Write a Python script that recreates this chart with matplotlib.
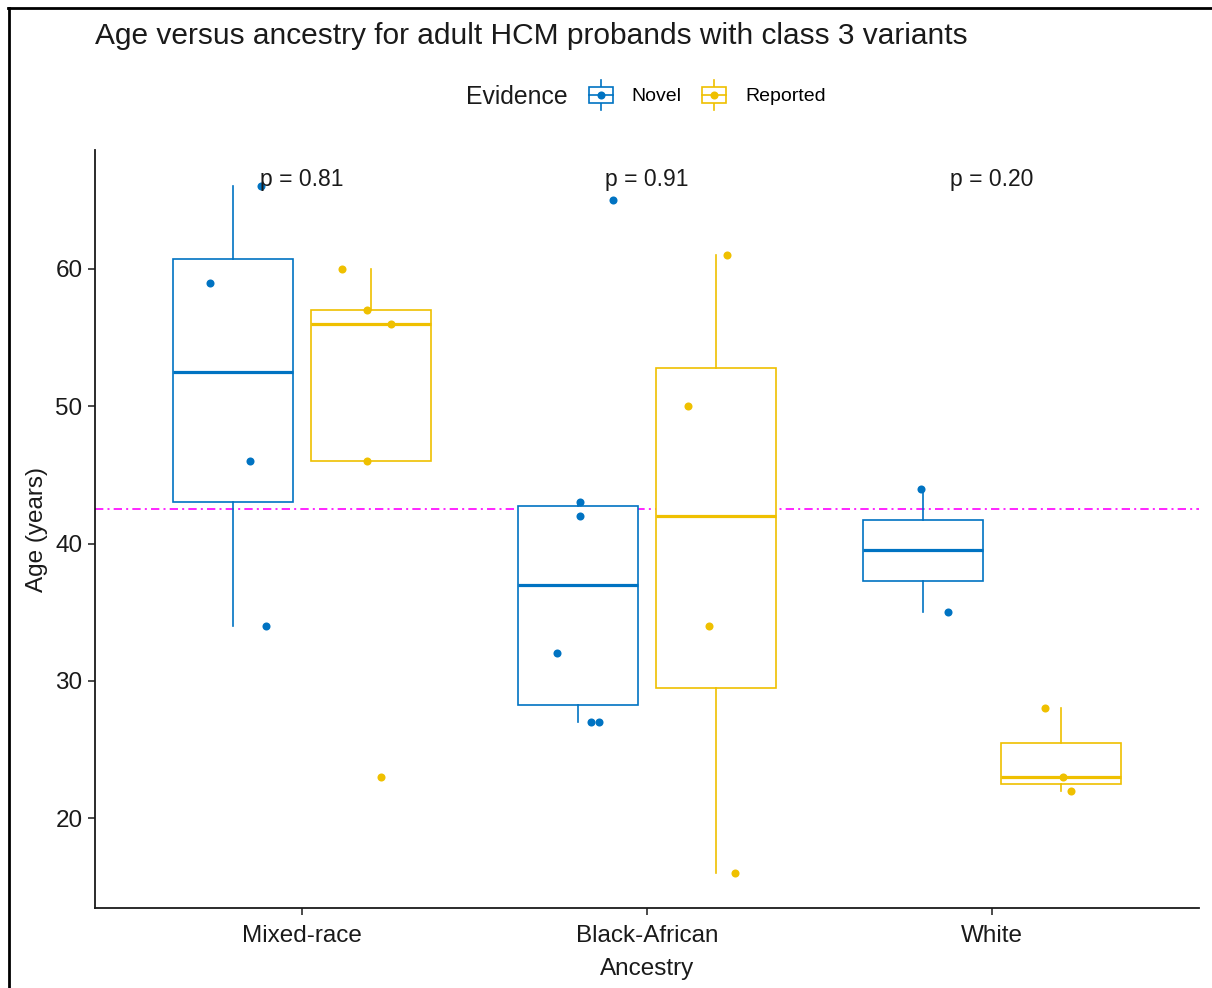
import matplotlib
matplotlib.use("Agg")
import matplotlib.pyplot as plt
from matplotlib.legend_handler import HandlerBase
from matplotlib.lines import Line2D
from matplotlib.patches import Rectangle

plt.rcParams["font.family"] = ["Liberation Sans", "DejaVu Sans"]

# ---- data -------------------------------------------------------------
ancestry = ["Mixed-race", "Black-African", "White"]
evidence = ["Novel", "Reported"]
colors = {"Novel": "#0073C2", "Reported": "#EFC000"}

novel_ages = [
    [66, 59, 46, 34],
    [65, 43, 42, 32, 27, 27],
    [44, 35],
]
reported_ages = [
    [60, 57, 56, 46, 23],
    [61, 50, 34, 16],
    [28, 23, 22],
]
# horizontal jitter of each point relative to its box centre
novel_jitter = [
    [0.081, -0.066, 0.050, 0.096],
    [0.102, 0.006, 0.006, -0.060, 0.038, 0.061],
    [-0.006, 0.073],
]
reported_jitter = [
    [-0.084, -0.012, 0.058, -0.012, 0.029],
    [0.032, -0.081, -0.020, 0.055],
    [-0.047, 0.005, 0.029],
]
p_labels = ["p = 0.81", "p = 0.91", "p = 0.20"]
p_label_y = 66.5
reference_age = 42.5
y_ticks = [20, 30, 40, 50, 60]

# ---- figure -----------------------------------------------------------
W, H = 1212, 988
fig = plt.figure(figsize=(W / 100, H / 100), dpi=100)
ax = fig.add_axes([95 / W, (H - 908) / H, (1199 - 95) / W, (908 - 150) / H])

dodge = 0.2
box_w = 0.35
groups = [("Novel", novel_ages, novel_jitter, -dodge),
          ("Reported", reported_ages, reported_jitter, dodge)]

for name, ages, jit, off in groups:
    c = colors[name]
    pos = [i + off for i in range(len(ancestry))]
    ax.boxplot(ages, positions=pos, widths=box_w, whis=1.5, showfliers=False,
               showcaps=False, patch_artist=True, manage_ticks=False,
               boxprops=dict(facecolor="white", edgecolor=c, linewidth=1.2),
               whiskerprops=dict(color=c, linewidth=1.2),
               medianprops=dict(color=c, linewidth=2.3, solid_capstyle="butt"),
               zorder=2)
    for i, (vals, js) in enumerate(zip(ages, jit)):
        xs = [i + off + j for j in js]
        ax.plot(xs, vals, "o", color=c, ms=5.8, mec="none", zorder=3)

ax.axhline(reference_age, color="#FF00FF", linewidth=1.2,
           dashes=(5, 2.5, 1.2, 2.5), zorder=1)

for i, lab in enumerate(p_labels):
    ax.text(i, p_label_y, lab, ha="center", va="center", fontsize=16.5,
            color="#1a1a1a", zorder=4)

ax.set_xlim(-0.6, len(ancestry) - 0.4)
ax.set_ylim(13.47, 68.65)
ax.set_xticks(range(len(ancestry)))
ax.set_xticklabels(ancestry)
ax.set_yticks(y_ticks)
ax.tick_params(axis="both", labelsize=17.5, colors="#1a1a1a", length=5,
               width=1.1, direction="out")
ax.tick_params(axis="x", pad=7)
ax.tick_params(axis="y", pad=4)
for s in ["top", "right"]:
    ax.spines[s].set_visible(False)
for s in ["left", "bottom"]:
    ax.spines[s].set_linewidth(1.3)
    ax.spines[s].set_color("#1a1a1a")

ax.set_xlabel("Ancestry", fontsize=17.5, color="#1a1a1a", labelpad=8)
ax.set_ylabel("Age (years)", fontsize=17.5, color="#1a1a1a", labelpad=5)

fig.text(95 / W, 1 - 36 / H, "Age versus ancestry for adult HCM probands with class 3 variants",
         ha="left", va="center", fontsize=21.5, color="#1a1a1a")


# legend keys drawn as small boxplots
class BoxKey(HandlerBase):
    def create_artists(self, legend, orig_handle, xdescent, ydescent,
                       width, height, fontsize, trans):
        c = orig_handle.get_color()
        cx = -xdescent + width / 2
        cy = -ydescent + height / 2
        bw, bh = width * 0.95, height * 0.5
        arts = [
            Line2D([cx, cx], [cy - height * 0.5, cy + height * 0.5], color=c, lw=1.2),
            Rectangle((cx - bw / 2, cy - bh / 2), bw, bh, facecolor="white",
                      edgecolor=c, lw=1.2),
            Line2D([cx - bw / 2, cx + bw / 2], [cy, cy], color=c, lw=1.2),
            Line2D([cx], [cy], marker="o", ms=5.8, color=c, mec="none"),
        ]
        for a in arts:
            a.set_transform(trans)
        return arts


handles = [Line2D([], [], color=colors[e]) for e in evidence]
fig.text(466 / W, 1 - 97 / H, "Evidence", ha="left", va="center",
         fontsize=17.8, color="#1a1a1a")
fig.legend(handles, evidence, handler_map={Line2D: BoxKey()},
           loc="center left", bbox_to_anchor=(588 / W, 1 - 95 / H),
           ncol=2, frameon=False, fontsize=14, handlelength=1.3,
           handleheight=2.0, handletextpad=0.95, columnspacing=1.0,
           borderpad=0, borderaxespad=0)

# frame lines along the top and left edges
fig.add_artist(Line2D([8 / W, 1], [1 - 8 / H, 1 - 8 / H], transform=fig.transFigure,
                      color="black", lw=2.0))
fig.add_artist(Line2D([9 / W, 9 / W], [0, 1 - 8 / H], transform=fig.transFigure,
                      color="black", lw=2.0))

fig.savefig("out.png", dpi=100, facecolor="white")
